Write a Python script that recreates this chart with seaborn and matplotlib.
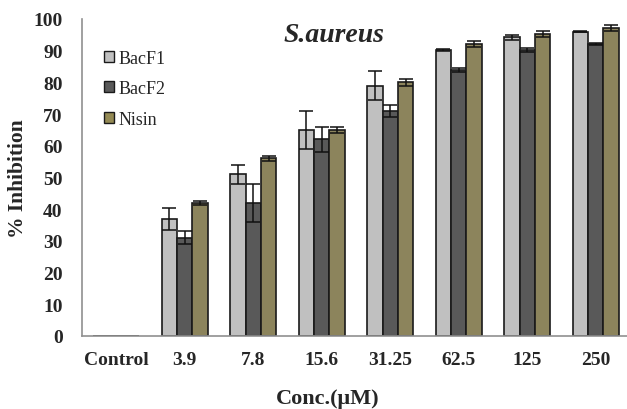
import matplotlib
matplotlib.use("Agg")
import matplotlib.pyplot as plt
import seaborn as sns
import pandas as pd
import numpy as np
from matplotlib.patches import Patch

categories = ["Control", "3.9", "7.8", "15.6", "31.25", "62.5", "125", "250"]
series = ["BacF1", "BacF2", "Nisin"]
bacf1 = [0, 37, 51, 65, 79, 90.2, 94.2, 96]
bacf2 = [0, 31, 42, 62, 71, 84, 90.2, 92.1]
nisin = [0, 42, 56, 65, 80, 92.1, 95.2, 97.1]
bacf1_err = [0, 3.5, 3, 6, 4.5, 0.2, 0.7, 0.2]
bacf2_err = [0, 2, 6, 4, 2, 0.7, 0.5, 0.3]
nisin_err = [0, 0.7, 0.7, 1, 1.2, 1, 1, 1]
colors = ["#c0c0c0", "#595959", "#948a54"]

sns.set_style("white")
plt.rcParams["font.family"] = ["Liberation Serif", "DejaVu Serif"]

df = pd.DataFrame({
    "conc": categories * 3,
    "series": np.repeat(series, len(categories)),
    "value": bacf1 + bacf2 + nisin,
})
errs = [bacf1_err, bacf2_err, nisin_err]

fig = plt.figure(figsize=(6.27, 4.10), dpi=100)
ax = fig.add_axes([82 / 627, 73 / 410, 548 / 627, 317 / 410])
sns.barplot(data=df, x="conc", y="value", hue="series", order=categories,
            hue_order=series, palette=colors, width=0.67, errorbar=None,
            edgecolor="#1a1a1a", linewidth=1.2, ax=ax, legend=False)

for cont, err, vals in zip(ax.containers, errs, [bacf1, bacf2, nisin]):
    for bar, e, v in zip(cont, err, vals):
        if v == 0:
            continue
        cx = bar.get_x() + bar.get_width() / 2
        ax.errorbar(cx, v, yerr=e, fmt="none", ecolor="#111111",
                    elinewidth=1.1, capsize=5, capthick=1.1)

ax.set_ylim(0, 100)
ax.set_xlim(-0.5, 7.5)
ax.set_yticks(range(0, 101, 10))
ax.set_yticklabels([str(v) for v in range(0, 101, 10)], fontsize=14,
                   fontweight="bold")
ax.set_xticks(np.arange(-0.5, 7.5, 1.0))
ax.set_xticklabels([])
ax.set_xticks(np.arange(len(categories)), minor=True)
ax.set_xticklabels(categories, minor=True, fontsize=14, fontweight="bold")
ax.tick_params(axis="x", which="major", direction="out", length=6,
               color="#909090", width=1.2)
ax.tick_params(axis="x", which="minor", length=0, pad=11)
ax.tick_params(axis="y", direction="out", length=6, color="#909090",
               width=1.2, pad=8)
for s in ["top", "right"]:
    ax.spines[s].set_visible(False)
for s in ["left", "bottom"]:
    ax.spines[s].set_color("#909090")
    ax.spines[s].set_linewidth(1.2)

ax.set_xlabel("Conc.(μM)", fontsize=16, fontweight="bold")
ax.xaxis.set_label_coords((328 - 82) / 548, -0.165)
ax.set_ylabel("% Inhibition", fontsize=15.5, fontweight="bold")
ax.yaxis.set_label_coords(-0.098, 0.5)

fig.text(334 / 627, 1 - 35 / 410, "S.aureus", fontsize=20, fontweight="bold",
         fontstyle="italic", ha="center", va="center")

handles = [Patch(facecolor=c, edgecolor="#1a1a1a", linewidth=1) for c in colors]
leg = ax.legend(handles, series, loc="upper left",
                bbox_to_anchor=(0.011, 0.955), frameon=False, fontsize=13,
                handlelength=0.55, handleheight=0.55, handletextpad=0.25,
                labelspacing=0.75)

fig.savefig("out.png", dpi=100)
